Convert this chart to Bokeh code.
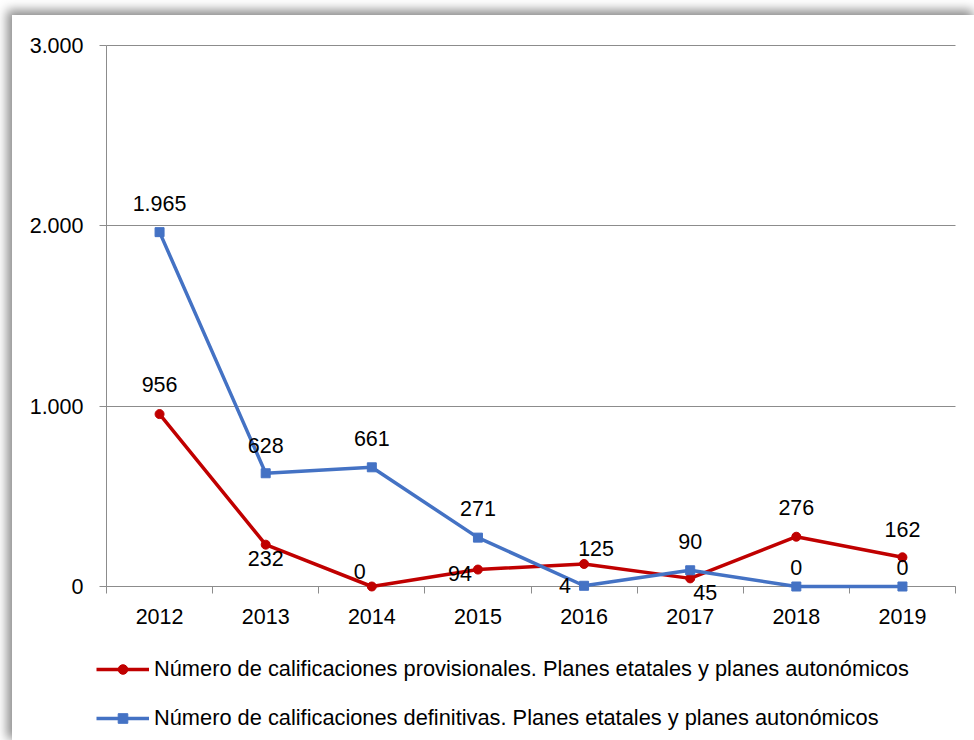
from bokeh.plotting import figure
from bokeh.models import Range1d, FixedTicker, Legend, LegendItem, ColumnDataSource
from bokeh.embed import file_html
from bokeh.resources import INLINE
from bokeh.core.properties import value

# ---- data ----
years = ["2012", "2013", "2014", "2015", "2016", "2017", "2018", "2019"]
provisionales = [956, 232, 0, 94, 125, 45, 276, 162]
definitivas = [1965, 628, 661, 271, 4, 90, 0, 0]
y_ticks = [0, 1000, 2000, 3000]
y_tick_labels = ["0", "1.000", "2.000", "3.000"]
series_names = [
    "Número de calificaciones provisionales. Planes etatales y planes autonómicos",
    "Número de calificaciones definitivas. Planes etatales y planes autonómicos",
]

# ---- style: data-label placement in pixels (screen, y down) ----
prov_dx = [0, 0, -12, -18, 12, 15, 0, 0]
prov_dy = [-30, 14, -15, 4, -15, 14, -29, -28]
def_dx = [0, 0, 0, 0, -19, 0, 0, 0]
def_dy = [-29, -28, -29, -29, 0, -29, -19, -19]

FONT = "Liberation Sans"
FS = "21.5px"
LFS = "21.8px"
RED = "#C00000"
BLUE = "#4472C4"
GRID = "#8c8c8c"

# ---- layout (pixels inside the canvas) ----
W, H = 962, 725
PLOT_L, PLOT_R, PLOT_T, PLOT_B = 94, 943, 30, 571


def fmt(v):
    return f"{v:,}".replace(",", ".")


xs = list(range(len(years)))
n = len(years)
x0, x1 = -0.5, n - 0.5
y0, y1 = y_ticks[0], y_ticks[-1]
ppx = (PLOT_R - PLOT_L) / (x1 - x0)
ppy = (PLOT_B - PLOT_T) / (y1 - y0)

p = figure(
    width=W, height=H,
    x_range=Range1d(x0 - PLOT_L / ppx, x1 + (W - PLOT_R) / ppx),
    y_range=Range1d(y0 - (H - PLOT_B) / ppy, y1 + PLOT_T / ppy),
    output_backend="svg", toolbar_location=None, min_border=0,
)
p.styles = {
    "margin-left": "12px",
    "margin-top": "15px",
    "box-shadow": "-3px -3px 10px 2px rgba(0,0,0,0.45)",
}
p.outline_line_color = None
p.background_fill_color = "white"
p.border_fill_color = "white"

p.xgrid.visible = False
p.ygrid.ticker = FixedTicker(ticks=y_ticks)
p.ygrid.grid_line_color = GRID
p.ygrid.grid_line_width = 1
p.ygrid.bounds = (y0, y1)
p.ygrid.cross_bounds = (x0, x1)

# y axis
p.yaxis.fixed_location = x0
p.yaxis.bounds = (y0, y1)
p.yaxis.ticker = FixedTicker(ticks=y_ticks)
p.yaxis.major_label_overrides = {t: l for t, l in zip(y_ticks, y_tick_labels)}
p.yaxis.axis_line_color = GRID
p.yaxis.major_tick_line_color = GRID
p.yaxis.major_tick_out = 7
p.yaxis.major_tick_in = 0
p.yaxis.minor_tick_line_color = None
p.yaxis.major_label_standoff = 16
p.yaxis.major_label_text_font = FONT
p.yaxis.major_label_text_font_size = FS
p.yaxis.major_label_text_color = "black"

# x axis: labels at category centres, ticks at category boundaries
p.xaxis.fixed_location = y0
p.xaxis.bounds = (x0, x1)
p.xaxis.ticker = FixedTicker(ticks=xs, minor_ticks=[i - 0.5 for i in range(n + 1)])
p.xaxis.major_label_overrides = {i: y for i, y in zip(xs, years)}
p.xaxis.axis_line_color = GRID
p.xaxis.major_tick_line_color = None
p.xaxis.major_tick_out = 0
p.xaxis.major_tick_in = 0
p.xaxis.minor_tick_line_color = GRID
p.xaxis.minor_tick_out = 7
p.xaxis.minor_tick_in = 0
p.xaxis.major_label_standoff = 15
p.xaxis.major_label_text_font = FONT
p.xaxis.major_label_text_font_size = FS
p.xaxis.major_label_text_color = "black"
p.xaxis.level = "underlay"
p.yaxis.level = "underlay"

# series
r1 = p.line(xs, provisionales, line_color=RED, line_width=3.5)
s1 = p.scatter(xs, provisionales, marker="circle", size=9, fill_color=RED, line_color=RED)
r2 = p.line(xs, definitivas, line_color=BLUE, line_width=3.5)
s2 = p.scatter(xs, definitivas, marker="square", size=9, fill_color=BLUE, line_color=BLUE)

# data labels
for vals, dx, dy in ((provisionales, prov_dx, prov_dy), (definitivas, def_dx, def_dy)):
    src = ColumnDataSource(dict(x=xs, y=vals, t=[fmt(v) for v in vals], dx=dx, dy=dy))
    p.text(x="x", y="y", text="t", x_offset="dx", y_offset="dy", source=src,
           text_font=value(FONT), text_font_size=value(FS), text_color="black",
           text_align="center", text_baseline="middle")

legend = Legend(
    items=[LegendItem(label=series_names[0], renderers=[r1, s1]),
           LegendItem(label=series_names[1], renderers=[r2, s2])],
    location=(84, 9), orientation="vertical",
    glyph_width=53, glyph_height=24, label_height=24, label_standoff=5, spacing=23,
    padding=0, margin=0, border_line_color=None, background_fill_alpha=0,
    label_text_font=FONT, label_text_font_size=LFS, label_text_color="black",
)
p.add_layout(legend)

open("out.html", "w").write(file_html(p, INLINE))
